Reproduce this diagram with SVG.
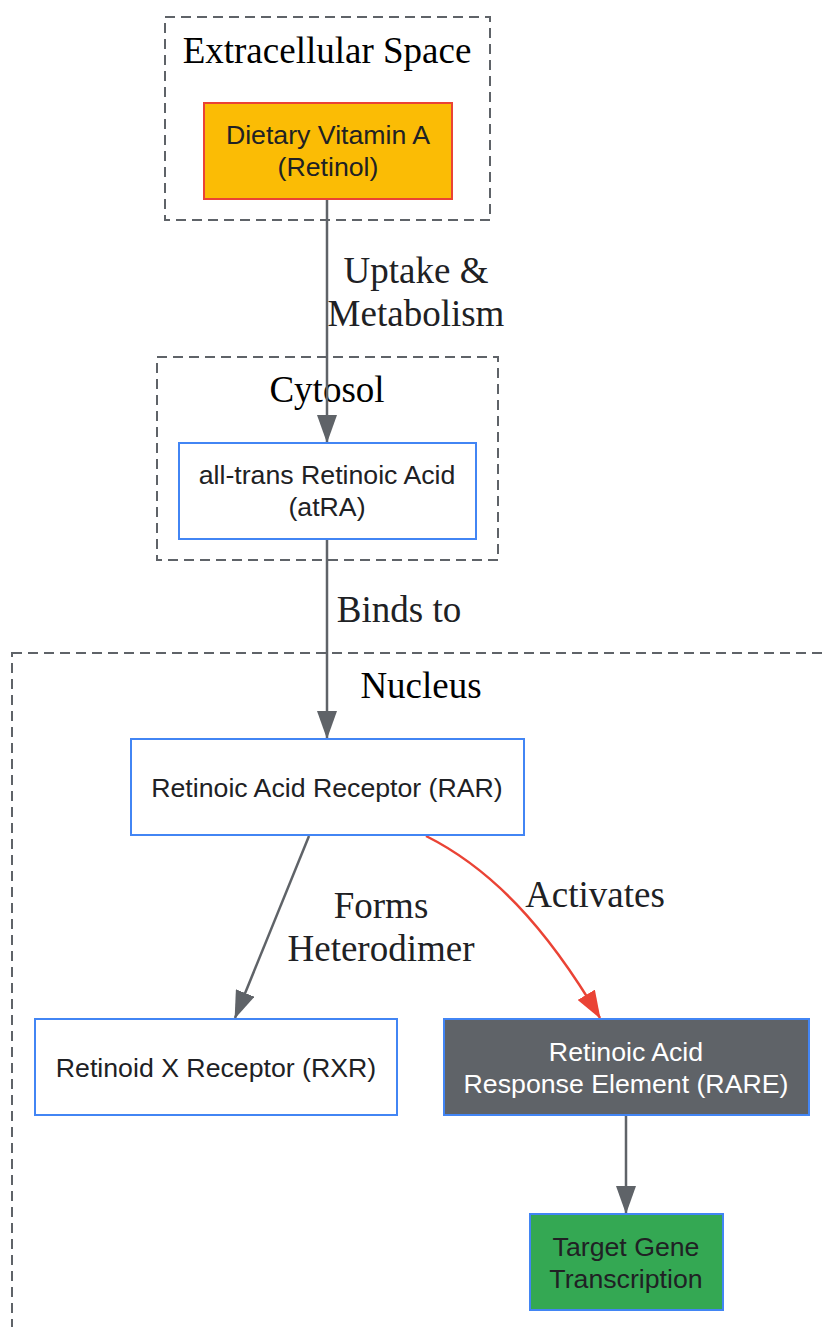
<svg xmlns="http://www.w3.org/2000/svg" width="826" height="1327" viewBox="0 0 826 1327">
<style>
.cluster{fill:none;stroke:#5f6368;stroke-width:2;stroke-dasharray:10,6}
.ctitle{font-family:"Liberation Serif",serif;font-size:37px;fill:#000;text-anchor:middle}
.node{stroke:#4285f4;stroke-width:2}
.ntext{font-family:"Liberation Sans",Arial,sans-serif;font-size:26.7px;fill:#202124;text-anchor:middle}
.edge{fill:none;stroke:#5f6368;stroke-width:2.5}
.elabel{font-family:"Liberation Serif",serif;font-size:37px;fill:#202124;text-anchor:middle}
</style>
<defs>
<marker id="ag" markerWidth="28" markerHeight="20" refX="27" refY="10" orient="auto" markerUnits="userSpaceOnUse">
<path d="M0,0 L28,10 L0,20 Z" fill="#5f6368"/>
</marker>
<marker id="ar" markerWidth="28" markerHeight="20" refX="27" refY="10" orient="auto" markerUnits="userSpaceOnUse">
<path d="M0,0 L28,10 L0,20 Z" fill="#ea4335"/>
</marker>
</defs>
<rect width="826" height="1327" fill="#fff"/>
<g id="clusters">
<g id="cluster_extracellular">
<rect class="cluster" x="165" y="17" width="325" height="203"/>
<text class="ctitle" x="327" y="63">Extracellular Space</text>
</g>
<g id="cluster_cytosol">
<rect class="cluster" x="157" y="357" width="341" height="203"/>
<text class="ctitle" x="327" y="402">Cytosol</text>
</g>
<g id="cluster_nucleus">
<rect class="cluster" x="12" y="653" width="830" height="700"/>
<text class="ctitle" x="421" y="698">Nucleus</text>
</g>
</g>
<g id="edges">
<g id="e_retinol_atra">
<line class="edge" x1="327" y1="199" x2="327" y2="442" marker-end="url(#ag)"/>
<text class="elabel" x="416" y="283">Uptake &amp;</text>
<text class="elabel" x="416" y="326">Metabolism</text>
</g>
<g id="e_atra_rar">
<line class="edge" x1="327" y1="539" x2="327" y2="738" marker-end="url(#ag)"/>
<text class="elabel" x="399" y="622">Binds to</text>
</g>
<g id="e_rar_rxr">
<line class="edge" x1="309" y1="836" x2="235" y2="1018" marker-end="url(#ag)"/>
<text class="elabel" x="381" y="918">Forms</text>
<text class="elabel" x="381" y="961">Heterodimer</text>
</g>
<g id="e_rar_rare">
<path class="edge" style="stroke:#ea4335" d="M426,836 C490,868 545,925 600,1018" marker-end="url(#ar)"/>
<text class="elabel" x="595" y="907">Activates</text>
</g>
<g id="e_rare_target">
<line class="edge" x1="626" y1="1115" x2="626" y2="1213" marker-end="url(#ag)"/>
</g>
</g>
<g id="n_retinol">
<rect x="204" y="103" width="248" height="96" fill="#fbbc05" stroke="#ea4335" stroke-width="2"/>
<text class="ntext" x="328" y="144">Dietary Vitamin A</text>
<text class="ntext" x="328" y="176">(Retinol)</text>
</g>
<g id="n_atra">
<rect class="node" x="179" y="443" width="297" height="96" fill="#fff"/>
<text class="ntext" x="327" y="484">all-trans Retinoic Acid</text>
<text class="ntext" x="327" y="516">(atRA)</text>
</g>
<g id="n_rar">
<rect class="node" x="131" y="739" width="393" height="96" fill="#fff"/>
<text class="ntext" x="327" y="797">Retinoic Acid Receptor (RAR)</text>
</g>
<g id="n_rxr">
<rect class="node" x="35" y="1019" width="362" height="96" fill="#fff"/>
<text class="ntext" x="216" y="1077">Retinoid X Receptor (RXR)</text>
</g>
<g id="n_rare">
<rect class="node" x="444" y="1019" width="365" height="96" fill="#5f6368"/>
<text class="ntext" x="626" y="1061" style="fill:#fff">Retinoic Acid</text>
<text class="ntext" x="626" y="1093" style="fill:#fff">Response Element (RARE)</text>
</g>
<g id="n_target">
<rect class="node" x="530" y="1214" width="193" height="96" fill="#34a853"/>
<text class="ntext" x="626" y="1256">Target Gene</text>
<text class="ntext" x="626" y="1288">Transcription</text>
</g>
</svg>
